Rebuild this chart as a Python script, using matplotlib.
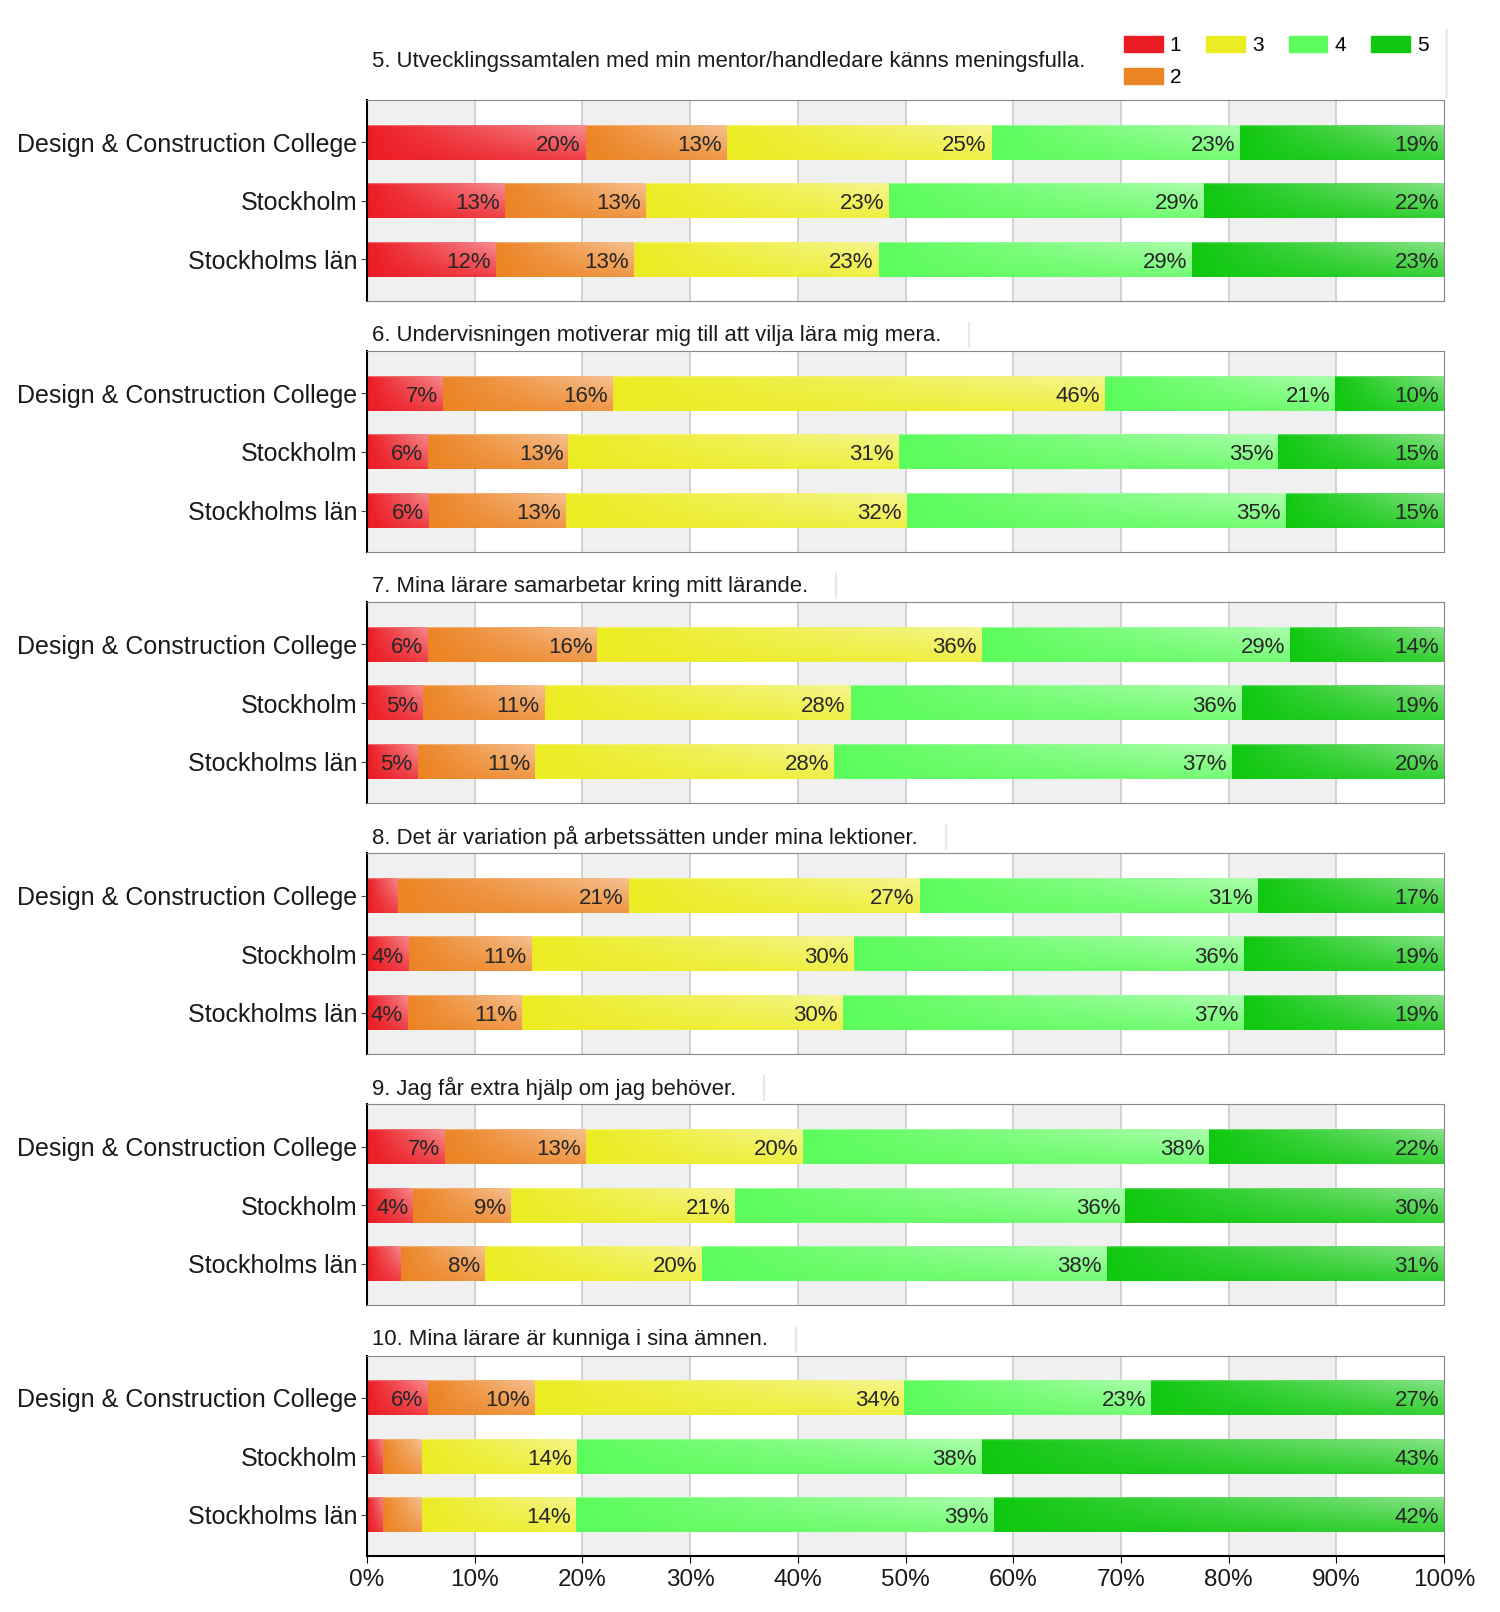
import numpy as np
import matplotlib
matplotlib.use('Agg')
import matplotlib.pyplot as plt
from matplotlib.patches import Patch
from matplotlib.colors import to_rgb
from matplotlib.lines import Line2D

plt.rcParams['font.family'] = ['Liberation Sans', 'DejaVu Sans']

# ─── Data ─────────────────────────────────────────────────────────────
groups = ['Design & Construction College', 'Stockholm', 'Stockholms län']
levels = ['1', '2', '3', '4', '5']

titles = [
    '5. Utvecklingssamtalen med min mentor/handledare känns meningsfulla.',
    '6. Undervisningen motiverar mig till att vilja lära mig mera.',
    '7. Mina lärare samarbetar kring mitt lärande.',
    '8. Det är variation på arbetssätten under mina lektioner.',
    '9. Jag får extra hjälp om jag behöver.',
    '10. Mina lärare är kunniga i sina ämnen.',
]

# share (%) per group, answers 1..5
q5 = [[20.3, 13.1, 24.6, 23.1, 18.9],
      [12.8, 13.1, 22.6, 29.2, 22.3],
      [12.0, 12.8, 22.7, 29.1, 23.4]]
q6 = [[7.1, 15.7, 45.7, 21.4, 10.1],
      [5.7, 13.0, 30.7, 35.2, 15.4],
      [5.8, 12.7, 31.6, 35.2, 14.7]]
q7 = [[5.7, 15.7, 35.7, 28.6, 14.3],
      [5.2, 11.3, 28.4, 36.3, 18.8],
      [4.7, 10.9, 27.8, 36.9, 19.7]]
q8 = [[2.9, 21.4, 27.0, 31.4, 17.3],
      [3.9, 11.4, 29.9, 36.2, 18.6],
      [3.8, 10.6, 29.8, 37.2, 18.6]]
q9 = [[7.2, 13.1, 20.2, 37.7, 21.8],
      [4.3, 9.1, 20.8, 36.2, 29.6],
      [3.2, 7.8, 20.1, 37.6, 31.3]]
q10 = [[5.7, 9.9, 34.3, 22.9, 27.2],
       [1.5, 3.6, 14.4, 37.6, 42.9],
       [1.5, 3.6, 14.3, 38.8, 41.8]]

# ─── Style ────────────────────────────────────────────────────────────
colors = ['#ec1c24', '#ec8424', '#ecec24', '#5cfc5c', '#10c810']
text_col = '#1a1a1a'
band_col = '#f0f0f0'
grid_col = '#cccccc'
spine_col = '#888888'

W, H = 1500, 1612
fig = plt.figure(figsize=(W / 100, H / 100), dpi=100)
fig.patch.set_facecolor('white')

ax_left, ax_right = 367, 1444
ax_h = 200.5
tops = [100 + 251.1 * i for i in range(6)]
title_off = [39, 16, 16, 16, 16, 16]


def gradient(color, n=64):
    rgb = np.array(to_rgb(color))
    t = np.linspace(0, 1, n)[None, :]
    s = np.linspace(1, 0, n)[:, None]          # row 0 = top
    f = 0.5 * t * (0.3 + 0.7 * s)
    f[:2, :] = np.maximum(f[:2, :], 0.35)      # glossy top edge
    return rgb * (1 - f[..., None]) + f[..., None]


data = [q5, q6, q7, q8, q9, q10]
axes = []
for qi, (vals, title) in enumerate(zip(data, titles)):
    top = tops[qi]
    ax = fig.add_axes([ax_left / W, 1 - (top + ax_h) / H,
                       (ax_right - ax_left) / W, ax_h / H])
    axes.append(ax)
    vals = np.array(vals)
    ypos = np.arange(len(groups))

    for x0 in range(0, 100, 20):
        ax.axvspan(x0, x0 + 10, color=band_col, lw=0, zorder=0)
    for x0 in range(10, 100, 10):
        ax.axvline(x0, color=grid_col, lw=1.2, zorder=0.5)

    left = np.zeros(len(groups))
    for k in range(len(levels)):
        bars = ax.barh(ypos, vals[:, k], left=left, height=0.59,
                       color=colors[k], lw=0, zorder=2)
        img = gradient(colors[k])
        for b, v in zip(bars, vals[:, k]):
            x0, w = b.get_x(), b.get_width()
            y0, h = b.get_y(), b.get_height()
            ax.imshow(img, extent=(x0, x0 + w, y0 + h, y0), origin='upper',
                      aspect='auto', zorder=2.5, interpolation='bilinear')
            if v >= 3.7:
                ax.annotate(f'{v:.0f}%', xy=(x0 + w, y0 + h / 2),
                            xytext=(-5, -3), textcoords='offset pixels',
                            ha='right', va='center', fontsize=16,
                            color='#262626', zorder=4)
        left += vals[:, k]

    ax.set_xlim(0, 100)
    ax.set_ylim(2.70, -0.72)
    ax.set_yticks(ypos)
    ax.set_yticklabels(groups, fontsize=18, color=text_col)
    ax.tick_params(axis='y', length=4, pad=3, color='#444444')
    ax.set_xticks(range(0, 101, 10))
    if qi == len(data) - 1:
        ax.set_xticklabels([f'{x}%' for x in range(0, 101, 10)],
                           fontsize=17.5, color=text_col)
        ax.tick_params(axis='x', length=5, color='black', pad=4)
        ax.spines['bottom'].set_color('black')
        ax.spines['bottom'].set_linewidth(1.5)
    else:
        ax.set_xticklabels([])
        ax.tick_params(axis='x', length=0)
        ax.spines['bottom'].set_color(spine_col)
    for sp in ['top', 'right']:
        ax.spines[sp].set_color(spine_col)
    ax.spines['left'].set_color('black')
    ax.spines['left'].set_linewidth(1.5)

    ax.annotate(title, xy=(0, 1), xycoords='axes fraction',
                xytext=(5, title_off[qi]), textcoords='offset pixels',
                ha='left', va='center', fontsize=15.9, color=text_col)

# ─── Legend ───────────────────────────────────────────────────────────
handles = [Patch(facecolor=c, edgecolor=c) for c in colors]
fig.legend(handles, levels, loc='upper left', ncol=4,
           bbox_to_anchor=(1124 / W, 1 - 36 / H), frameon=False,
           fontsize=15, handlelength=1.85, handleheight=0.8,
           handletextpad=0.35, columnspacing=1.2, labelspacing=0.6,
           borderpad=0, borderaxespad=0)

# faint box-shadow edges next to titles / legend
fig.canvas.draw()
rend = fig.canvas.get_renderer()
for ax in axes[1:]:
    t = ax.texts[-1]
    bb = t.get_window_extent(rend)
    xl = (bb.x1 + 28) / W
    ycen = (bb.y0 + bb.y1) / 2
    fig.add_artist(Line2D([xl, xl], [(ycen - 12) / H, (ycen + 12) / H],
                          color='#e8e8e8', lw=1.5))
fig.add_artist(Line2D([1446 / W, 1446 / W], [1 - 30 / H, 1 - 97 / H],
                      color='#ececec', lw=2))

fig.savefig('out.png', dpi=100, facecolor='white')
